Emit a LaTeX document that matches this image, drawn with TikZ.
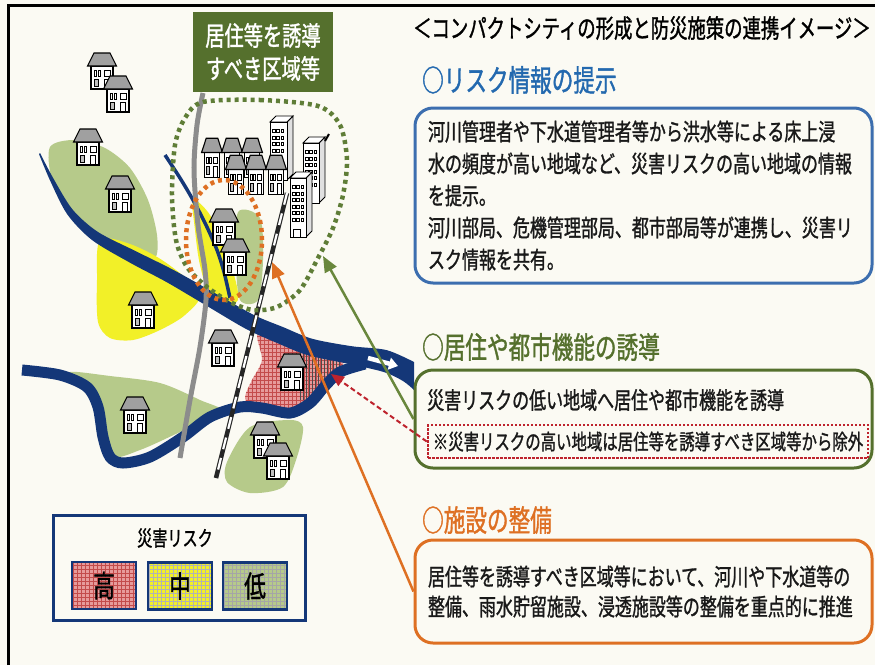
\documentclass[tikz,border=0pt]{standalone}
\usepackage{fontspec}
\newfontfamily\jp[FakeStretch=0.72,FakeBold=1.2]{Noto Sans CJK JP}
\usetikzlibrary{arrows.meta}

\definecolor{paper}{RGB}{251,250,243}
\definecolor{navy}{RGB}{20,55,120}
\definecolor{riskblue}{RGB}{35,105,175}
\definecolor{boxblue}{RGB}{60,110,175}
\definecolor{leafgreen}{RGB}{85,112,45}
\definecolor{dotgreen}{RGB}{95,125,55}
\definecolor{arrowgreen}{RGB}{105,135,60}
\definecolor{orng}{RGB}{222,112,35}
\definecolor{dashred}{RGB}{190,35,45}
\definecolor{lowgreen}{RGB}{182,202,138}
\definecolor{midyellow}{RGB}{242,240,40}
\definecolor{highpink}{RGB}{230,155,155}
\definecolor{hatchred}{RGB}{195,75,75}
\definecolor{roofgray}{RGB}{160,160,160}
\definecolor{roadgray}{RGB}{140,140,140}

\tikzset{
  house/.pic={
    \draw[fill=white,line width=1.1] (-11,-5) rectangle (11,18);
    \draw[fill=roofgray,line width=1.1] (-14.5,-5) -- (-8,-18) -- (8,-18) -- (14.5,-5) -- cycle;
    \draw[line width=0.8] (-8,-1) rectangle (-5.5,5) (-4,-1) rectangle (-1.5,5) (2,-1) rectangle (8,5) (2,8) rectangle (7,18);
    \draw[fill=black!25,line width=0.8] (-8,8) rectangle (-3.5,15);
  },
  rowhouse/.style={xscale=0.72,yscale=1.1},
  heading/.style={anchor=west,inner sep=0,font=\jp\fontsize{30}{30}\selectfont},
  panel/.style={draw,rounded corners=18,line width=3,inner xsep=13,inner ysep=0},
  body/.style={font=\jp\fontsize{23.6}{32}\selectfont,text=black!90},
  grid4/.style={path picture={\draw[step=4pt,line width=0.35,draw=#1]
      (path picture bounding box.south west) grid (path picture bounding box.north east);}},
  swatch/.style={draw=navy,line width=2.5,minimum width=64,minimum height=47,inner sep=0,
      font=\jp\fontsize{30}{30}\selectfont},
  arrowline/.style={line width=2.5,-{Triangle[length=16pt,width=13pt]}}
}

% tall building: front corner x, y, width, height, rows of windows
\newcommand\tower[5]{%
  \draw[fill=black!12,line width=0.9] ({#1+#3},#2) -- ({#1+#3+6},{#2-6}) -- ({#1+#3+6},{#2+#4-6}) -- ({#1+#3},{#2+#4}) -- cycle;
  \draw[fill=white,line width=0.9] (#1,#2) -- ({#1+6},{#2-6}) -- ({#1+#3+6},{#2-6}) -- ({#1+#3},#2) -- cycle;
  \draw[fill=white,line width=0.9] (#1,#2) rectangle ({#1+#3},{#2+#4});
  \foreach \r in {1,...,#5}
    \foreach \c in {0,1,2}
      \draw[line width=0.6] ({#1+2.5+\c*4.2},{#2+1+\r*6.5}) rectangle ++(2.6,3.2);
}

\begin{document}
\begin{tikzpicture}[x=1pt,y=-1pt]
  \useasboundingbox (0,0) rectangle (875,665);
  \fill[paper] (0,0) rectangle (875,665);
  \draw[line width=3] (8,665) -- (8,5) -- (875,5);

  % risk areas
  \fill[lowgreen] plot[smooth cycle] coordinates {(50,147) (75,140) (105,148) (130,168) (148,200) (157,235) (155,258) (133,257) (95,236) (70,212) (52,180)};
  \fill[lowgreen] plot[smooth cycle] coordinates {(70,372) (110,376) (160,383) (200,400) (222,412) (180,432) (140,450) (112,456) (100,420) (85,385)};
  \fill[lowgreen] plot[smooth cycle] coordinates {(227,462) (250,427) (290,420) (303,427) (297,457) (283,487) (250,493) (227,482)};
  \fill[lowgreen] plot[smooth cycle] coordinates {(238,212) (260,218) (263,260) (258,300) (240,300) (236,260)};
  \fill[midyellow] plot[smooth cycle] coordinates {(100,240) (130,244) (165,262) (200,293) (185,315) (160,330) (133,340) (110,338) (98,322) (97,280)};
  \fill[midyellow] plot[smooth cycle] coordinates {(193,200) (210,215) (228,255) (238,300) (212,300) (200,265) (195,230)};
  \path[fill=highpink,path picture={
      \draw[step=4pt,line width=0.4,draw=hatchred] (240,330) grid (350,412);
      \foreach \x in {300,303,...,340} \draw[black!70,line width=0.5] (\x,345) -- (\x,400);}]
    plot[smooth cycle] coordinates {(258,333) (290,345) (320,352) (345,358) (330,380) (310,398) (285,410) (255,408) (245,398) (252,380) (262,360)};

  % rivers
  \fill[navy] plot[smooth] coordinates {(40,153) (53.8,179.2) (72.8,209.8) (98,232) (136,251.3) (173.4,269.9) (213.8,292.5) (253.7,314.9) (283.1,327.1) (312.3,338.8) (351.7,346.2) (386.6,350.1) (414,362)}
    -- plot[smooth] coordinates {(414,390) (403,381) (383.4,371.9) (348.3,363.8) (307.7,355.2) (276.9,342.9) (246.3,329.1) (206.2,305.5) (166.6,282.1) (130,262.7) (92,240) (67.2,214.2) (50.2,180.8) (39,154)} -- cycle;
  \draw[navy,line width=11] plot[smooth] coordinates {(22,370) (60,375) (87,387) (98,407) (103,437) (110,457) (123,463) (150,457) (183,437) (210,417) (240,407) (262,408) (290,413) (310,403) (325,386) (340,372) (365,364)};
  \draw[navy,line width=3.5] plot[smooth] coordinates {(165,155) (180,178) (193,200) (206,225) (217,250) (224,272) (230,298)};
  \draw[white,line width=4.5,-{Triangle[length=9pt,width=12pt]}] (368,358) -- (398,366);

  % road and railway
  \draw[roadgray,line width=5] plot[smooth] coordinates {(203,93) (197,125) (194,170) (198,225) (205,270) (206,300) (200,347) (190,400) (180,458)};
  \draw[black!85,line width=4.5] (287,193) -- (216,478);
  \draw[white,line width=2.2,dash pattern=on 12pt off 9pt] (287,193) -- (216,478);

  % buildings
  \tower{270}{122}{17}{58}{4}
  \tower{303}{143}{16}{60}{6}
  \draw[line width=2] (325,141) -- (329,134);
  \pic[rowhouse] at (212,158) {house};
  \pic[rowhouse] at (232,158) {house};
  \pic[rowhouse] at (252,158) {house};
  \pic[rowhouse] at (236,175) {house};
  \pic[rowhouse] at (256,175) {house};
  \pic[rowhouse] at (276,175) {house};
  \tower{290}{178}{16}{59}{6}
  \draw[line width=0.7] (293,229) rectangle (300,237);

  % houses
  \pic at (102,71) {house};
  \pic at (118,94) {house};
  \pic at (88,147) {house};
  \pic at (120,194) {house};
  \pic at (143,310) {house};
  \pic at (224,227) {house};
  \pic at (235,257) {house};
  \pic at (223,348) {house};
  \pic at (135,415) {house};
  \pic at (292,372) {house};
  \pic at (265,440) {house};
  \pic at (278,461) {house};

  % zones
  \draw[dotgreen,line width=4.5,dash pattern=on 4pt off 4pt] plot[smooth cycle] coordinates {(203,102) (260,100) (318,106) (340,125) (347,160) (343,195) (333,228) (318,258) (300,290) (277,307) (253,310) (230,302) (207,287) (187,267) (176,240) (172,195) (175,145) (185,118)};
  \draw[orng,line width=4.5,dash pattern=on 4pt off 4pt] (224,240) ellipse [x radius=38pt,y radius=60pt];
  \node[fill=leafgreen,text=white,minimum width=140,minimum height=80,align=center,
    font=\jp\fontsize{26.7}{33}\selectfont] (zoneLabel) at (263,52) {居住等を誘導\\すべき区域等};

  % legend
  \node[draw=navy,line width=3,minimum width=252,minimum height=105] (legend) at (179,567.5) {};
  \node[font=\jp\fontsize{21}{21}\selectfont] (legendTitle) at (175,538) {災害リスク};
  \node[swatch,fill=highpink,grid4=hatchred] (riskHigh) at (104,585.5) {高};
  \node[swatch,fill=midyellow,grid4=black!30] (riskMid) at (180,586) {中};
  \node[swatch,fill=lowgreen,grid4=black!35] (riskLow) at (255,586) {低};

  % right side panels
  \node[anchor=west,inner sep=0,font=\jp\fontsize{25.5}{25.5}\selectfont] (title) at (413,28)
    {＜コンパクトシティの形成と防災施策の連携イメージ＞};
  \node[heading,text=riskblue] (infoHead) at (422,80) {○リスク情報の提示};
  \node[panel,draw=boxblue,body,align=left,text width=431,minimum height=175] (infoBox) at (643.5,195.5)
    {河川管理者や下水道管理者等から洪水等による床上浸\\水の頻度が高い地域など、災害リスクの高い地域の情報\\を提示。\\河川部局、危機管理部局、都市部局等が連携し、災害リ\\スク情報を共有。};
  \node[heading,text=leafgreen] (inductHead) at (422,347) {○居住や都市機能の誘導};
  \node[panel,draw=leafgreen,minimum width=457,minimum height=98] (inductBox) at (643.5,419) {};
  \node[anchor=west,inner sep=0,body] (inductText) at (427,400) {災害リスクの低い地域へ居住や都市機能を誘導};
  \node[draw=dashred,line width=2.5,dash pattern=on 2.5pt off 1.5pt,minimum width=440,minimum height=33,
    inner sep=0,font=\jp\fontsize{21.4}{21.4}\selectfont,text=black!90] (exclBox) at (648,441.5)
    {※災害リスクの高い地域は居住等を誘導すべき区域等から除外};
  \node[heading,text=orng] (facilityHead) at (422,520) {○施設の整備};
  \node[panel,draw=orng,body,align=left,text width=431,minimum height=103,
    font=\jp\fontsize{23.6}{30}\selectfont] (facilityBox) at (643.5,591.5)
    {居住等を誘導すべき区域等において、河川や下水道等の\\整備、雨水貯留施設、浸透施設等の整備を重点的に推進};

  % arrows into the map
  \coordinate (orangeTip) at (272,262);
  \coordinate (greenTip) at (323,256);
  \coordinate (redTip) at (331,374);
  \draw[arrowline,orng] (facilityBox.west) -- (orangeTip);
  \draw[arrowline,arrowgreen] (inductBox.west) -- (greenTip);
  \draw[dashred,line width=2,dash pattern=on 5pt off 3pt,-{Triangle[length=13pt,width=11pt]}] (exclBox.west) -- (redTip);
\end{tikzpicture}
\end{document}
